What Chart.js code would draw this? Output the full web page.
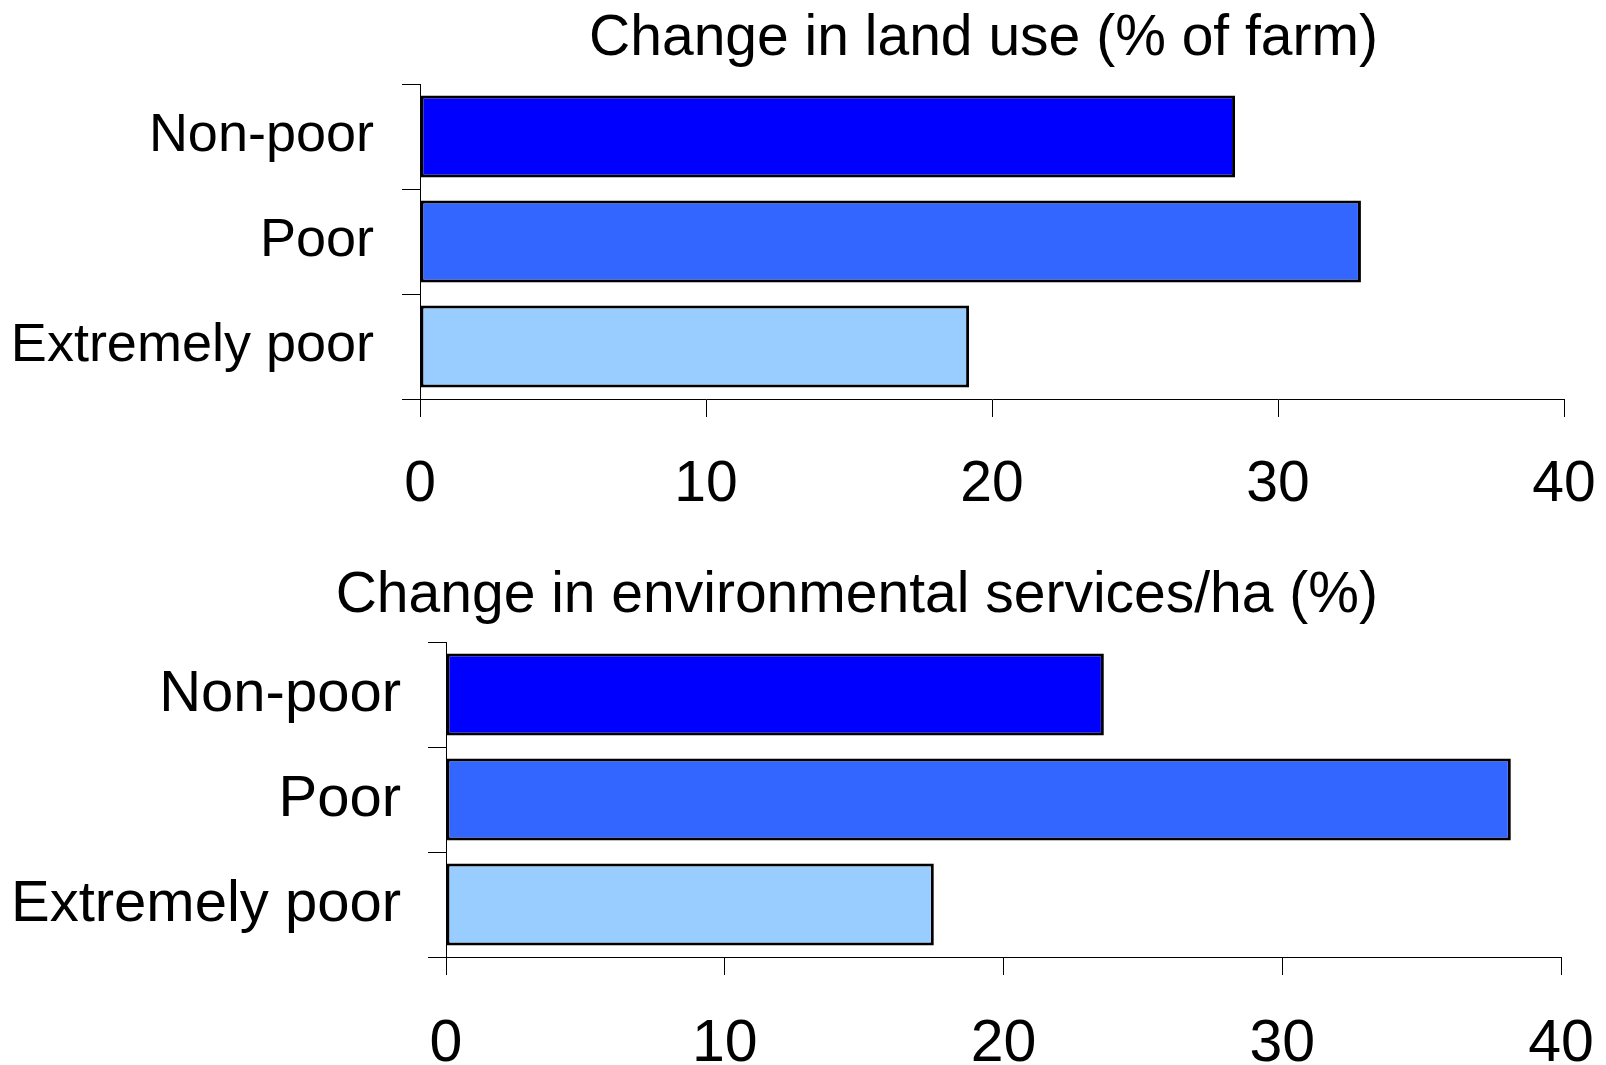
<!DOCTYPE html>
<html>
<head>
<meta charset="utf-8">
<title>Land use and environmental services</title>
<script src="https://cdn.jsdelivr.net/npm/chart.js@4/dist/chart.umd.min.js"></script>
<style>
    html, body { margin: 0; padding: 0; background: #fff; }
    body { width: 1606px; height: 1065px; position: relative; overflow: hidden; }
    .panel { position: absolute; left: 0; }
    #landPanel { top: 0; width: 1606px; height: 530px; }
    #servicesPanel { top: 530px; width: 1606px; height: 535px; }
</style>
</head>
<body>
<div class="panel" id="landPanel"><canvas id="landChart"></canvas></div>
<div class="panel" id="servicesPanel"><canvas id="servicesChart"></canvas></div>

<script>
// Household groups, top to bottom
const groups = ["Non-poor", "Poor", "Extremely poor"];
const groupColors = ["#0000FF", "#3366FF", "#99CCFF"];

// Change in land use (% of farm)
const landUseChange = [28.5, 32.9, 19.2];

// Change in environmental services per hectare (%)
const servicesChange = [23.6, 38.2, 17.5];

// x axis ticks
const xTicks = [0, 10, 20, 30, 40];

const FONT = "'Liberation Sans', Arial, sans-serif";

// draws the panel heading right-aligned at a fixed spot
const headingPlugin = {
    id: 'heading',
    afterDraw(chart, args, opts) {
        const ctx = chart.ctx;
        ctx.save();
        ctx.font = opts.size + "px " + FONT;
        ctx.fillStyle = "#000";
        ctx.textAlign = "right";
        ctx.textBaseline = "alphabetic";
        ctx.fillText(opts.text, opts.x, opts.y);
        ctx.restore();
    }
};

function makeChart(canvasId, values, cfg) {
    const ctx = document.getElementById(canvasId).getContext("2d");
    return new Chart(ctx, {
        type: "bar",
        data: {
            labels: groups,
            datasets: [{
                data: values,
                backgroundColor: groupColors,
                borderColor: "#000",
                borderWidth: 3,
                borderSkipped: false,
                barPercentage: 0.78,
                categoryPercentage: 1.0,
            }]
        },
        plugins: [headingPlugin],
        options: {
            indexAxis: "y",
            responsive: true,
            maintainAspectRatio: false,
            animation: false,
            layout: {
                padding: { top: cfg.top, right: cfg.right, left: 0, bottom: 0 }
            },
            scales: {
                x: {
                    min: 0,
                    max: 40,
                    afterBuildTicks: (scale) => {
                        scale.ticks = xTicks.map(v => ({ value: v }));
                    },
                    afterFit: (scale) => {
                        scale.height = cfg.xAxisHeight;
                        // keep the edge labels from pushing the plot inwards
                        scale.paddingLeft = 0;
                        scale.paddingRight = 0;
                    },
                    border: { display: true, color: "#000", width: 1 },
                    grid: {
                        drawOnChartArea: false,
                        drawTicks: true,
                        tickLength: 18,
                        color: "#000",
                        lineWidth: 1,
                    },
                    ticks: {
                        color: "#000",
                        padding: cfg.xPad,
                        maxRotation: 0,
                        font: { family: FONT, size: cfg.tickSize },
                    },
                },
                y: {
                    afterFit: (scale) => { scale.width = cfg.yAxisWidth; },
                    border: { display: true, color: "#000", width: 1 },
                    grid: {
                        offset: true,
                        drawOnChartArea: false,
                        drawTicks: true,
                        tickLength: 18,
                        color: "#000",
                        lineWidth: 1,
                    },
                    ticks: {
                        color: "#000",
                        padding: cfg.yPad,
                        font: { family: FONT, size: cfg.labelSize },
                    },
                },
            },
            plugins: {
                legend: { display: false },
                tooltip: { enabled: false },
                title: { display: false },
                heading: { text: cfg.title, x: 1378, y: cfg.titleY, size: cfg.titleSize },
            },
        }
    });
}

makeChart("landChart", landUseChange, {
    title: "Change in land use (% of farm)",
    titleY: 55,
    titleSize: 57,
    top: 84,
    right: 42,
    yAxisWidth: 420,
    xAxisHeight: 131,
    xPad: 34,
    tickSize: 57,
    labelSize: 54,
    yPad: 28,
});

makeChart("servicesChart", servicesChange, {
    title: "Change in environmental services/ha (%)",
    titleY: 82,
    titleSize: 57,
    top: 112,
    right: 45,
    yAxisWidth: 446,
    xAxisHeight: 108,
    xPad: 34,
    tickSize: 59,
    labelSize: 58,
    yPad: 27,
});
</script>
</body>
</html>
